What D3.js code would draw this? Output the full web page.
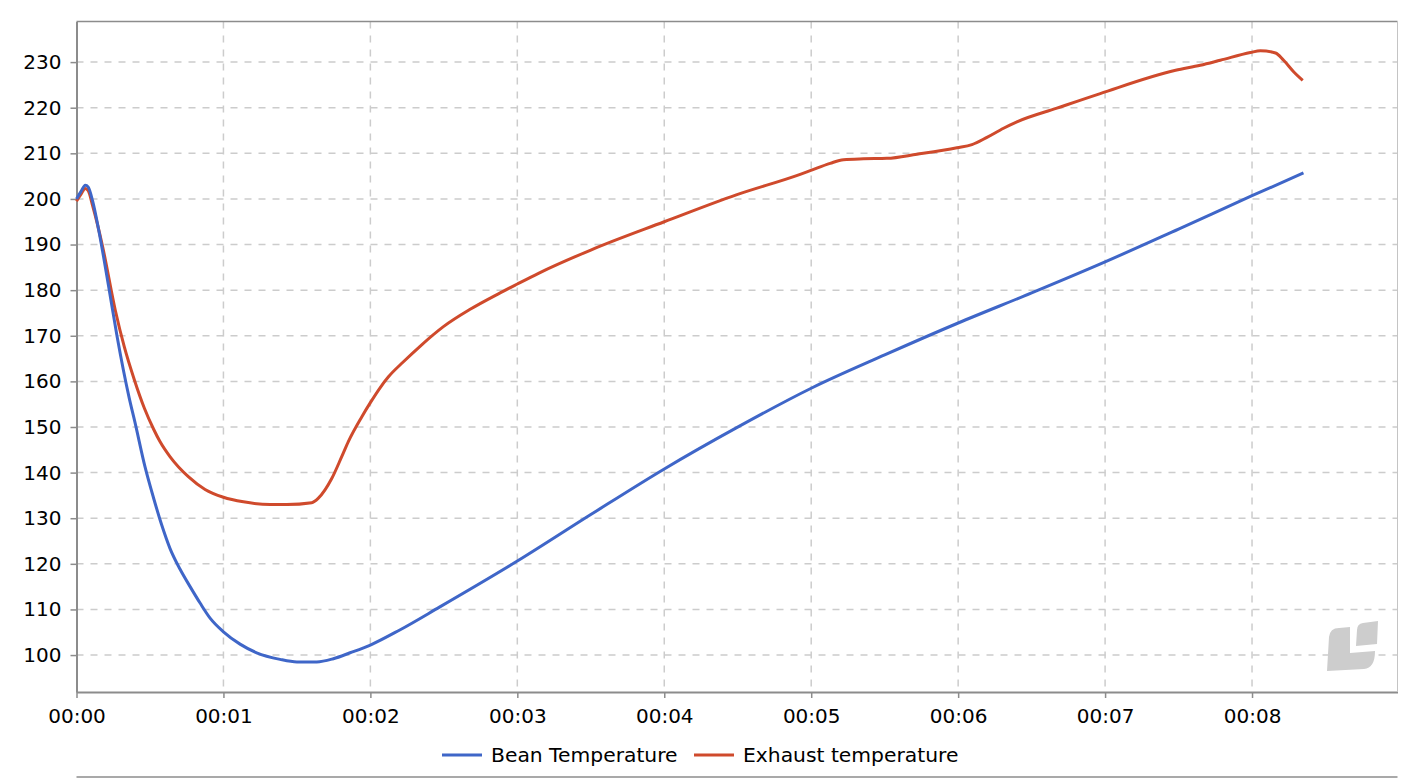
<!DOCTYPE html>
<html>
<head>
<meta charset="utf-8">
<script src="https://cdn.jsdelivr.net/npm/d3@7"></script>
<style>
  html, body { margin: 0; padding: 0; background: #fff; }
  svg { display: block; }
  text { font-family: "DejaVu Sans", sans-serif; fill: #000; }
</style>
</head>
<body>
<script>
// values, time in minutes
var beanTimes = [0, 0.03, 0.06, 0.08, 0.11, 0.151, 0.223, 0.276, 0.319, 0.357, 0.398, 0.466, 0.523, 0.58, 0.636, 0.705, 0.773, 0.841, 0.909, 1, 1.113, 1.226, 1.385, 1.5, 1.635, 1.748, 1.862, 2, 2.2, 2.47, 3, 3.5, 4, 4.49, 5, 5.5, 6, 6.5, 7, 7.5, 8, 8.35];
var beanValues = [200, 201.6, 203, 202.6, 199.5, 193.2, 180, 169.9, 162.5, 156.6, 151, 141.3, 134.6, 128.5, 123.4, 118.8, 115, 111.4, 108.1, 105.1, 102.4, 100.5, 99.05, 98.5, 98.5, 99.2, 100.5, 102.2, 105.5, 110.5, 120.6, 130.8, 140.8, 149.8, 158.5, 165.8, 172.8, 179.4, 186.2, 193.4, 200.7, 205.7];

var exhaustTimes = [0, 0.03, 0.06, 0.08, 0.11, 0.178, 0.264, 0.325, 0.394, 0.462, 0.525, 0.568, 0.636, 0.761, 0.875, 1, 1.136, 1.317, 1.431, 1.601, 1.646, 1.737, 1.805, 1.85, 1.941, 2.003, 2.066, 2.123, 2.225, 2.338, 2.497, 2.679, 2.883, 2.997, 3.144, 3.5, 4, 4.49, 4.925, 4.993, 5.129, 5.22, 5.356, 5.515, 5.72, 5.992, 6.094, 6.196, 6.309, 6.4, 6.672, 6.967, 7.48, 7.648, 7.784, 7.989, 8.057, 8.16, 8.215, 8.283, 8.345];
var exhaustValues = [199.5, 201, 202.3, 201.8, 198.5, 189.5, 175.6, 167.6, 160.3, 154.1, 149.5, 146.8, 143.5, 139.1, 136.3, 134.6, 133.6, 133, 133, 133.4, 134.4, 138.7, 143.5, 146.8, 152.2, 155.5, 158.6, 161, 164.3, 167.7, 172, 175.8, 179.4, 181.3, 183.7, 188.8, 195, 200.9, 205.4, 206.2, 207.8, 208.6, 208.8, 208.9, 209.8, 211.2, 211.9, 213.5, 215.5, 216.9, 219.9, 223.1, 228.2, 229.3, 230.4, 232.1, 232.5, 232, 230.4, 227.9, 226];

var xTickValues = [0, 1, 2, 3, 4, 5, 6, 7, 8];
var yTickValues = [100, 110, 120, 130, 140, 150, 160, 170, 180, 190, 200, 210, 220, 230];
var seriesNames = ["Bean Temperature", "Exhaust temperature"];

var blue = "#3f66c8";
var red = "#cf4a2c";

var svgWidth = 1424;
var svgHeight = 778;
var margin = { top: 21.5, right: 26.5, bottom: 86, left: 76.5 };
var chartWidth = svgWidth - margin.left - margin.right;
var chartHeight = svgHeight - margin.top - margin.bottom;

var svg = d3.select("body").append("svg")
  .attr("width", svgWidth)
  .attr("height", svgHeight);

var defs = svg.append("defs");
defs.append("filter").attr("id", "soft")
  .append("feGaussianBlur").attr("stdDeviation", 0.7);

var chartGroup = svg.append("g")
  .attr("transform", `translate(${margin.left}, ${margin.top})`);

var xScale = d3.scaleLinear().domain([0, 8.99]).range([0, chartWidth]);
var yScale = d3.scaleLinear().domain([91.9, 238.9]).range([chartHeight, 0]);

// grid
chartGroup.selectAll(".grid-y")
  .data(yTickValues)
  .enter()
  .append("line")
  .attr("x1", 0)
  .attr("x2", chartWidth)
  .attr("y1", d => yScale(d))
  .attr("y2", d => yScale(d))
  .attr("stroke", "#cccccc")
  .attr("stroke-width", 1.5)
  .attr("stroke-dasharray", "7 7");

chartGroup.selectAll(".grid-x")
  .data(xTickValues.slice(1))
  .enter()
  .append("line")
  .attr("x1", d => xScale(d))
  .attr("x2", d => xScale(d))
  .attr("y1", 0)
  .attr("y2", chartHeight)
  .attr("stroke", "#cccccc")
  .attr("stroke-width", 1.5)
  .attr("stroke-dasharray", "7 7");

// watermark logo
var logo = svg.append("g").attr("fill", "#cdcdcd").attr("filter", "url(#soft)");
logo.append("path").attr("d", "M1329 637 Q1330 628 1339 628 L1350 627 L1350 653 L1375 651 Q1375 668 1364 669 L1327 671 Z");
logo.append("path").attr("d", "M1357 630 Q1357 624 1363 623 L1378 621 L1377 644 L1356 646 Z");

// plot frame
svg.append("path")
  .attr("d", `M${margin.left} ${margin.top}H${svgWidth - margin.right}`)
  .attr("stroke", "#8c8c8c").attr("stroke-width", 1.5);
svg.append("path")
  .attr("d", `M${svgWidth - margin.right} ${margin.top}V${margin.top + chartHeight}`)
  .attr("stroke", "#c4c4c4").attr("stroke-width", 1);
svg.append("path")
  .attr("d", `M${margin.left} 777H${svgWidth - margin.right}`)
  .attr("stroke", "#8c8c8c").attr("stroke-width", 1.5);

// axes
var xAxis = d3.axisBottom(xScale)
  .tickValues(xTickValues)
  .tickSizeOuter(0)
  .tickSizeInner(6)
  .tickPadding(11)
  .tickFormat(d => "00:" + d3.format("02")(d));
var yAxis = d3.axisLeft(yScale)
  .tickValues(yTickValues)
  .tickSizeOuter(0)
  .tickSizeInner(6)
  .tickPadding(9);

var xAxisGroup = chartGroup.append("g")
  .attr("transform", `translate(0, ${chartHeight})`)
  .call(xAxis);
var yAxisGroup = chartGroup.append("g").call(yAxis);

[xAxisGroup, yAxisGroup].forEach(function(g) {
  g.selectAll("text").style("font-size", "20px").style("font-family", '"DejaVu Sans", sans-serif');
  g.selectAll("line").attr("stroke", "#8c8c8c").attr("stroke-width", 1.5);
  g.select(".domain").attr("stroke", "#8c8c8c").attr("stroke-width", 2);
});

// lines
var line = d3.line()
  .x(d => xScale(d[0]))
  .y(d => yScale(d[1]))
  .curve(d3.curveMonotoneX);

chartGroup.append("path")
  .datum(d3.zip(exhaustTimes, exhaustValues))
  .attr("fill", "none")
  .attr("stroke", red)
  .attr("stroke-width", 3)
  .attr("d", line);

chartGroup.append("path")
  .datum(d3.zip(beanTimes, beanValues))
  .attr("fill", "none")
  .attr("stroke", blue)
  .attr("stroke-width", 3)
  .attr("d", line);

// legend
var legendItems = [
  { name: seriesNames[0], color: blue, x: 442 },
  { name: seriesNames[1], color: red, x: 694 }
];
var legend = svg.selectAll(".legend")
  .data(legendItems)
  .enter()
  .append("g")
  .attr("transform", d => `translate(${d.x}, 755)`);
legend.append("line")
  .attr("x1", 0).attr("x2", 40)
  .attr("stroke", d => d.color)
  .attr("stroke-width", 3);
legend.append("text")
  .attr("x", 49)
  .attr("y", 7)
  .style("font-size", "20.3px")
  .text(d => d.name);
</script>
</body>
</html>
